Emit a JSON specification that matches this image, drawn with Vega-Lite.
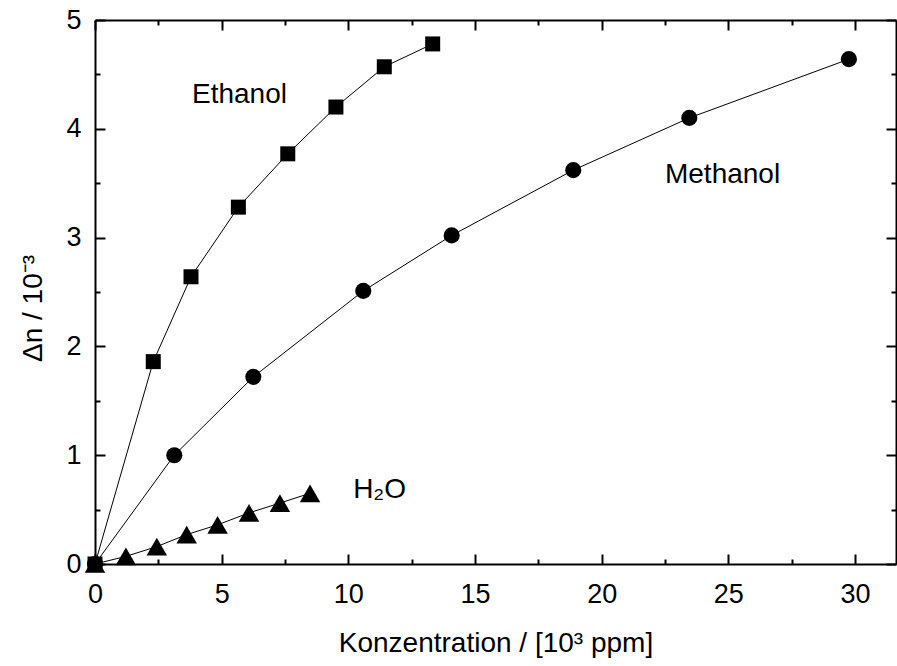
{
  "$schema": "https://vega.github.io/schema/vega-lite/v6.json",
  "width": 801,
  "height": 544,
  "autosize": {"type": "none"},
  "padding": {"left": 95, "top": 20, "right": 1, "bottom": 102},
  "background": "white",
  "config": {
    "view": {"stroke": null},
    "font": "Liberation Sans",
    "axis": {
      "domainColor": "black",
      "domainWidth": 2,
      "tickColor": "black",
      "tickWidth": 2,
      "grid": false,
      "labelFont": "Liberation Sans",
      "labelFontSize": 27,
      "labelColor": "black",
      "titleFont": "Liberation Sans",
      "titleFontSize": 28,
      "titleFontWeight": "normal",
      "titleColor": "black",
      "labelFlush": false,
      "labelOverlap": false
    }
  },
  "datasets": {
    "curves": [
      {"series": "Methanol", "c": 0, "dn": 0},
      {"series": "Methanol", "c": 3.13, "dn": 1.0},
      {"series": "Methanol", "c": 6.25, "dn": 1.72},
      {"series": "Methanol", "c": 10.59, "dn": 2.51},
      {"series": "Methanol", "c": 14.08, "dn": 3.02},
      {"series": "Methanol", "c": 18.88, "dn": 3.62},
      {"series": "Methanol", "c": 23.46, "dn": 4.1},
      {"series": "Methanol", "c": 29.76, "dn": 4.64},
      {"series": "H2O", "c": 0, "dn": 0},
      {"series": "H2O", "c": 1.22, "dn": 0.07},
      {"series": "H2O", "c": 2.44, "dn": 0.16},
      {"series": "H2O", "c": 3.62, "dn": 0.27},
      {"series": "H2O", "c": 4.84, "dn": 0.36},
      {"series": "H2O", "c": 6.08, "dn": 0.47},
      {"series": "H2O", "c": 7.3, "dn": 0.56},
      {"series": "H2O", "c": 8.49, "dn": 0.65},
      {"series": "Ethanol", "c": 0, "dn": 0},
      {"series": "Ethanol", "c": 2.3, "dn": 1.86},
      {"series": "Ethanol", "c": 3.79, "dn": 2.64},
      {"series": "Ethanol", "c": 5.66, "dn": 3.28},
      {"series": "Ethanol", "c": 7.61, "dn": 3.77},
      {"series": "Ethanol", "c": 9.51, "dn": 4.2},
      {"series": "Ethanol", "c": 11.42, "dn": 4.57},
      {"series": "Ethanol", "c": 13.33, "dn": 4.78}
    ],
    "names": [
      {"label": "Ethanol", "c": 3.83, "dn": 4.31},
      {"label": "Methanol", "c": 22.5, "dn": 3.575},
      {"label": "H₂O", "c": 10.19, "dn": 0.68}
    ]
  },
  "resolve": {"axis": {"x": "independent", "y": "independent"}},
  "layer": [
    {
      "data": {"name": "curves"},
      "mark": {"type": "line", "color": "black", "strokeWidth": 1},
      "encoding": {
        "x": {
          "field": "c", "type": "quantitative",
          "scale": {"domain": [0, 31.62], "nice": false, "zero": false},
          "axis": {
            "orient": "bottom",
            "title": "Konzentration / [10³ ppm]",
            "values": [0, 2.5, 5, 7.5, 10, 12.5, 15, 17.5, 20, 22.5, 25, 27.5, 30],
            "labelExpr": "datum.value % 5 === 0 ? format(datum.value, 'd') : ''",
            "tickSize": {"condition": {"test": "datum.value % 5 === 0", "value": -10}, "value": -5},
            "labelPadding": 27,
            "titlePadding": 17
          }
        },
        "y": {
          "field": "dn", "type": "quantitative",
          "scale": {"domain": [0, 5], "nice": false},
          "axis": {
            "orient": "left",
            "title": "Δn / 10⁻³",
            "titleY": 288,
            "values": [0, 0.5, 1, 1.5, 2, 2.5, 3, 3.5, 4, 4.5, 5],
            "labelExpr": "datum.value % 1 === 0 ? format(datum.value, 'd') : ''",
            "tickSize": {"condition": {"test": "datum.value % 1 === 0", "value": -10}, "value": -5},
            "labelPadding": 24,
            "titlePadding": 18
          }
        },
        "detail": {"field": "series"}
      }
    },
    {
      "data": {"name": "curves"},
      "mark": {"type": "point", "filled": true, "color": "black", "opacity": 1},
      "encoding": {
        "x": {
          "field": "c", "type": "quantitative",
          "axis": {
            "orient": "top",
            "title": null,
            "values": [0, 2.5, 5, 7.5, 10, 12.5, 15, 17.5, 20, 22.5, 25, 27.5, 30],
            "labels": false,
            "tickSize": {"condition": {"test": "datum.value % 5 === 0", "value": -10}, "value": -5}
          }
        },
        "y": {
          "field": "dn", "type": "quantitative",
          "axis": {
            "orient": "right",
            "title": null,
            "values": [0, 0.5, 1, 1.5, 2, 2.5, 3, 3.5, 4, 4.5, 5],
            "labels": false,
            "tickSize": {"condition": {"test": "datum.value % 1 === 0", "value": -10}, "value": -5}
          }
        },
        "shape": {
          "field": "series", "type": "nominal",
          "scale": {"domain": ["Ethanol", "Methanol", "H2O"], "range": ["square", "circle", "triangle-up"]},
          "legend": null
        },
        "size": {
          "condition": [
            {"test": "datum.series === 'H2O'", "value": 420},
            {"test": "datum.series === 'Methanol'", "value": 260}
          ],
          "value": 225
        }
      }
    },
    {
      "data": {"name": "names"},
      "mark": {"type": "text", "align": "left", "baseline": "middle", "font": "Liberation Sans", "fontSize": 28, "color": "black"},
      "encoding": {
        "x": {"field": "c", "type": "quantitative", "axis": null},
        "y": {"field": "dn", "type": "quantitative", "axis": null},
        "text": {"field": "label"}
      }
    }
  ]
}
